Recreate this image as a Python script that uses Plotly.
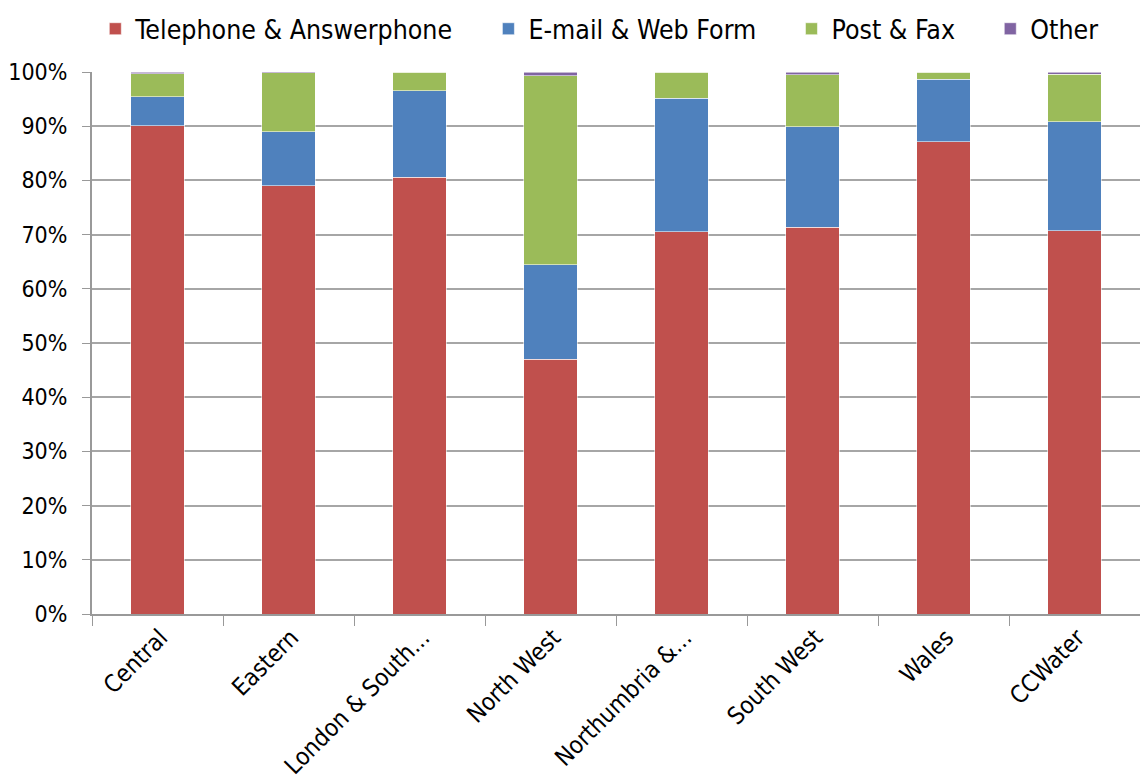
import plotly.graph_objects as go

regions = ["Central", "Eastern", "London & South...", "North West",
           "Northumbria &...", "South West", "Wales", "CCWater"]

telephone = [90.1, 79.0, 80.6, 47.0, 70.5, 71.4, 87.1, 70.7]
email = [5.3, 10.0, 15.9, 17.4, 24.7, 18.5, 11.6, 20.1]
post_fax = [4.3, 10.9, 3.5, 34.9, 4.8, 9.6, 1.3, 8.8]
other = [0.3, 0.1, 0.0, 0.7, 0.0, 0.5, 0.0, 0.4]

series = [
    ("Telephone & Answerphone", telephone, "#C0504D"),
    ("E-mail & Web Form", email, "#4F81BD"),
    ("Post & Fax", post_fax, "#9BBB59"),
    ("Other", other, "#8064A2"),
]

font_family = "DejaVu Sans Condensed, DejaVu Sans, sans-serif"
pad = "\u00a0" * 4  # extra room between legend entries

fig = go.Figure()
for i, (name, vals, color) in enumerate(series):
    label = name + (pad if i < len(series) - 1 else "")
    fig.add_trace(go.Bar(
        x=regions, y=vals, name=label,
        marker=dict(color=color, line=dict(color="rgba(255,255,255,0.55)", width=1)),
    ))

fig.update_layout(
    barmode="stack",
    bargap=0.595,
    width=1140, height=779,
    margin=dict(l=92, r=0, t=72, b=165, autoexpand=False),
    plot_bgcolor="white", paper_bgcolor="white",
    font=dict(family=font_family, size=23, color="black"),
    showlegend=True,
    legend=dict(orientation="h", xref="container", yref="container",
                x=0.0836, xanchor="left", y=1 - 29 / 779, yanchor="middle",
                font=dict(size=26.5), traceorder="normal",
                itemwidth=30, tracegroupgap=0),
    xaxis=dict(
        tickangle=-45, ticks="outside", tickson="boundaries", ticklen=10,
        tickcolor="#999999", showline=True, linecolor="#999999", linewidth=2,
        showgrid=False, tickfont=dict(size=24), ticklabelstandoff=-2,
        ticklabelshift=3,
    ),
    yaxis=dict(
        range=[0, 100], dtick=10, ticksuffix="%", showgrid=True,
        gridcolor="#A6A6A6", gridwidth=2, showline=True, linecolor="#999999",
        linewidth=2, ticks="outside", ticklen=8, tickcolor="#999999",
        ticklabelstandoff=10, zeroline=False, tickfont=dict(size=23),
    ),
)

fig.write_html("out.html")
